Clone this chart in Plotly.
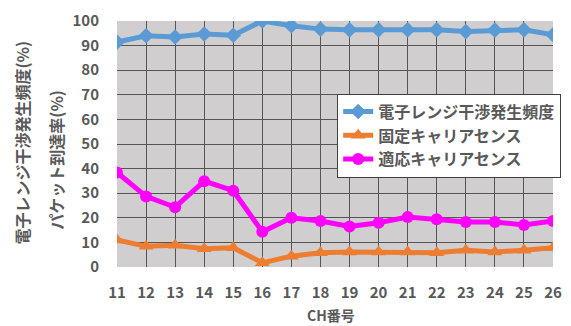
import plotly.graph_objects as go

channels = list(range(11, 27))
tick_labels = [str(c) for c in channels]
interference = [91.4, 94.0, 93.5, 94.7, 94.2, 100.0, 98.1, 96.7, 96.4, 96.4, 96.4, 96.4, 95.7, 96.3, 96.4, 94.4]
fixed_cs = [11.0, 8.4, 8.8, 7.4, 7.8, 1.7, 4.4, 5.8, 6.1, 6.1, 6.1, 5.8, 6.8, 6.1, 6.8, 7.8]
adaptive_cs = [38.4, 28.7, 24.3, 34.9, 31.0, 14.3, 20.0, 18.7, 16.5, 18.0, 20.3, 19.4, 18.3, 18.3, 17.1, 18.7]

FONT = "Noto Sans CJK JP"
GRAY = "#595959"

fig = go.Figure()
fig.add_trace(go.Scatter(x=channels, y=interference, name="電子レンジ干渉発生頻度",
                         mode="lines+markers", line=dict(color="#5b9bd5", width=5),
                         marker=dict(symbol="diamond", size=12, color="#5b9bd5")))
fig.add_trace(go.Scatter(x=channels, y=fixed_cs, name="固定キャリアセンス",
                         mode="lines+markers", line=dict(color="#ed7d31", width=5),
                         marker=dict(symbol="triangle-up", size=13, color="#ed7d31")))
fig.add_trace(go.Scatter(x=channels, y=adaptive_cs, name="適応キャリアセンス",
                         mode="lines+markers", line=dict(color="#ff00ff", width=5),
                         marker=dict(symbol="circle", size=12, color="#ff00ff")))

fig.update_layout(
    width=571, height=326,
    margin=dict(l=117, r=9, t=16, b=59),
    paper_bgcolor="white", plot_bgcolor="#d0cece",
    font=dict(family=FONT, color=GRAY, size=14, weight="bold"),
    showlegend=True,
    legend=dict(x=0.505, y=0.705, xanchor="left", yanchor="top",
                bgcolor="white", bordercolor="#404040", borderwidth=1,
                font=dict(family=FONT, size=16, color=GRAY, weight="bold"),
                itemwidth=30, tracegroupgap=0),
    xaxis=dict(range=[11, 26], tickmode="array", tickvals=channels, ticktext=tick_labels,
               showgrid=True, gridcolor="#555555", gridwidth=1, zeroline=False,
               showline=False, ticks="", ticklabelstandoff=15,
               tickfont=dict(family=FONT, size=15, color=GRAY, weight="bold")),
    yaxis=dict(range=[0, 100], dtick=10, showgrid=True, gridcolor="#555555", gridwidth=1,
               zeroline=False, showline=False, ticks="", ticklabelstandoff=17,
               tickfont=dict(family=FONT, size=15, color=GRAY, weight="bold")),
    annotations=[
        dict(text="電子レンジ干渉発生頻度(%)", xref="paper", yref="paper", x=-0.218, y=0.506,
             xanchor="center", yanchor="middle", textangle=-90, showarrow=False,
             font=dict(family=FONT, size=16, color=GRAY, weight="bold")),
        dict(text="パケット到達率(%)", xref="paper", yref="paper", x=-0.139, y=0.438,
             xanchor="center", yanchor="middle", textangle=-90, showarrow=False,
             font=dict(family=FONT, size=16, color=GRAY, weight="bold")),
        dict(text="CH番号", xref="paper", yref="paper", x=0.49, y=-0.195,
             xanchor="center", yanchor="middle", showarrow=False,
             font=dict(family=FONT, size=14, color=GRAY, weight="bold")),
    ],
)

fig.write_html("out.html")
